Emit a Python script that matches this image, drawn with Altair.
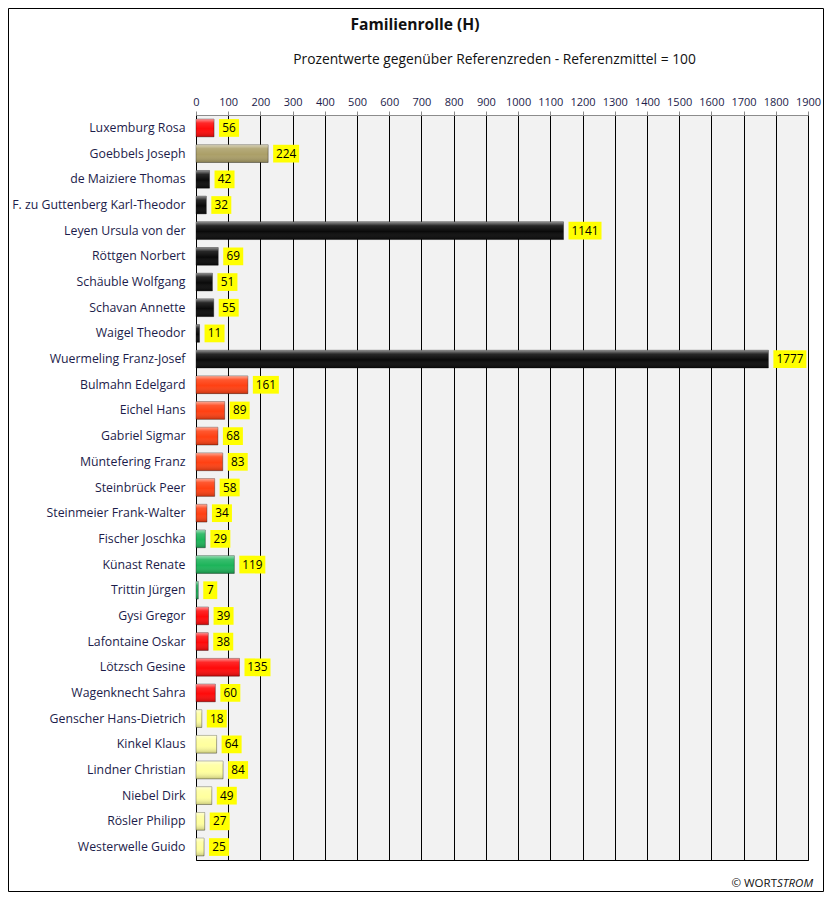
import altair as alt
import pandas as pd

names = ["Luxemburg Rosa", "Goebbels Joseph", "de Maiziere Thomas",
         "F. zu Guttenberg Karl-Theodor", "Leyen Ursula von der", "Röttgen Norbert",
         "Schäuble Wolfgang", "Schavan Annette", "Waigel Theodor",
         "Wuermeling Franz-Josef", "Bulmahn Edelgard", "Eichel Hans", "Gabriel Sigmar",
         "Müntefering Franz", "Steinbrück Peer", "Steinmeier Frank-Walter",
         "Fischer Joschka", "Künast Renate", "Trittin Jürgen", "Gysi Gregor",
         "Lafontaine Oskar", "Lötzsch Gesine", "Wagenknecht Sahra",
         "Genscher Hans-Dietrich", "Kinkel Klaus", "Lindner Christian", "Niebel Dirk",
         "Rösler Philipp", "Westerwelle Guido"]
values = [56, 224, 42, 32, 1141, 69, 51, 55, 11, 1777, 161, 89, 68, 83, 58, 34,
          29, 119, 7, 39, 38, 135, 60, 18, 64, 84, 49, 27, 25]
parties = ["Linke", "NSDAP"] + ["CDU"] * 8 + ["SPD"] * 6 + ["Grüne"] * 3 + ["Linke"] * 4 + ["FDP"] * 6

party_domain = ["Linke", "NSDAP", "CDU", "SPD", "Grüne", "FDP"]
party_colors = ["#ff0a0a", "#ab9f68", "#0a0a0a", "#ff4012", "#1db45a", "#ffff9e"]

ticks = list(range(0, 2000, 100))

df = pd.DataFrame({"name": names, "value": values, "party": parties})

FONT = "Open Sans"
TXT = "#1c1c4a"

y_axis = alt.Axis(title=None, ticks=False, domain=False, labelPadding=11,
                  labelFont=FONT, labelFontSize=12.3, labelColor=TXT, labelLimit=300)
y_scale = alt.Scale(paddingInner=0.31, paddingOuter=0.16)
x_axis = alt.Axis(orient="top", values=ticks, format="d", labelOverlap=False,
                  title="Prozentwerte  gegenüber Referenzreden - Referenzmittel = 100",
                  titleFont=FONT, titleFontSize=13.8, titleFontWeight="normal",
                  titleColor="#111111", titleX=298, titleY=-56,
                  titleAlign="center", titleBaseline="middle", titleAngle=0,
                  labelFont=FONT, labelFontSize=11, labelColor=TXT,
                  labelPadding=4, domainColor="#8c8c8c", tickColor="#8c8c8c",
                  tickSize=4, grid=True, gridColor="#000000", gridWidth=1,
                  gridOpacity=1, labelFlush=False)
x_scale = alt.Scale(domain=[0, 1900], nice=False, zero=True)


def X(field="value:Q"):
    return alt.X(field, scale=x_scale, axis=x_axis)


def Y():
    return alt.Y("name:N", sort=names, scale=y_scale, axis=y_axis)


base = alt.Chart(df)

bars = base.mark_bar(stroke="rgba(0,0,0,0.35)", strokeWidth=1).encode(
    x=X(), y=Y(),
    color=alt.Color("party:N", scale=alt.Scale(domain=party_domain, range=party_colors),
                    legend=None))

shine = base.mark_bar(
    color=alt.Gradient(gradient="linear", x1=0, x2=0, y1=0, y2=1,
                       stops=[alt.GradientStop(color="rgba(255,255,255,0.55)", offset=0),
                              alt.GradientStop(color="rgba(255,255,255,0.12)", offset=0.22),
                              alt.GradientStop(color="rgba(255,255,255,0)", offset=0.55),
                              alt.GradientStop(color="rgba(0,0,0,0.22)", offset=1)])
).encode(x=X(), y=Y())

layers = [bars, shine]
for lo, hi, w in [(0, 10, 14), (10, 100, 20), (100, 1000, 26), (1000, 10000, 33)]:
    sub = base.transform_filter(f"datum.value >= {lo} && datum.value < {hi}")
    layers.append(sub.mark_rect(color="#ffff00", xOffset=5, x2Offset=5 + w).encode(
        x=X(), x2="value:Q", y=Y()))
    layers.append(sub.mark_text(font=FONT, fontSize=11.8, color="#000000", align="center",
                                baseline="middle", dx=5 + w / 2).encode(
        x=X(), y=Y(), text=alt.Text("value:Q", format="d")))

credit1 = alt.Chart(pd.DataFrame({"t": ["© WORT"]})).mark_text(
    font=FONT, fontSize=11.5, color="#111111", align="right", baseline="middle").encode(
    x=alt.value(581), y=alt.value(769), text="t:N")
credit2 = alt.Chart(pd.DataFrame({"t": ["STROM"]})).mark_text(
    font=FONT, fontSize=11.5, color="#111111", align="left", baseline="middle",
    fontStyle="italic").encode(x=alt.value(581), y=alt.value(769), text="t:N")
border = alt.Chart(pd.DataFrame({"a": [0]})).mark_rect(
    fill=None, stroke="#000000", strokeWidth=1).encode(
    x=alt.value(-187.5), x2=alt.value(627.5), y=alt.value(-106.5), y2=alt.value(776.5))

chart = alt.layer(*layers, credit1, credit2, border).properties(
    width=612, height=745,
    title=alt.TitleParams("Familienrolle (H)", font=FONT, fontSize=15.6, fontWeight="bold",
                          color="#111111", anchor="middle", frame="group", dx=-87,
                          offset=-26),
    autosize=alt.AutoSizeParams(type="none"),
    padding={"left": 188, "top": 107, "right": 16, "bottom": 32},
).configure_view(fill="#f2f2f2", stroke="#000000", strokeWidth=1)

chart.save("out.html", embed_options={"renderer": "svg", "actions": False})
